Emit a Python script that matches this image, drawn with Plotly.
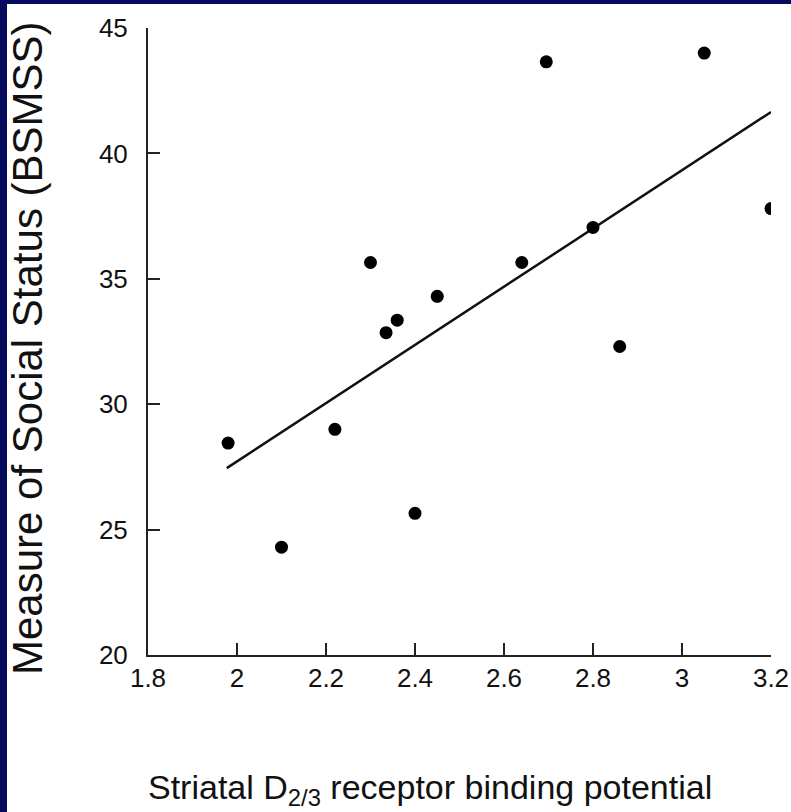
import plotly.graph_objects as go

# Data
binding_potential = [1.98, 2.10, 2.22, 2.30, 2.335, 2.36, 2.40, 2.45, 2.64, 2.695, 2.80, 2.86, 3.05, 3.20]
social_status = [28.45, 24.3, 29.0, 35.65, 32.85, 33.35, 25.65, 34.3, 35.65, 43.65, 37.05, 32.3, 44.0, 37.8]
fit_x = [1.977, 3.20]
fit_y = [27.45, 41.65]

x_ticks = [1.8, 2.0, 2.2, 2.4, 2.6, 2.8, 3.0, 3.2]
x_tick_labels = ["1.8", "2", "2.2", "2.4", "2.6", "2.8", "3", "3.2"]
y_ticks = [20, 25, 30, 35, 40, 45]
y_tick_labels = ["20", "25", "30", "35", "40", "45"]

W, H = 791, 812
L, R, T, B = 148, 20, 28, 157
pw, ph = W - L - R, H - T - B

fig = go.Figure()
fig.add_trace(go.Scatter(x=fit_x, y=fit_y, mode="lines",
                         line=dict(color="#111111", width=2.5), showlegend=False, hoverinfo="skip"))
fig.add_trace(go.Scatter(x=binding_potential, y=social_status, mode="markers",
                         marker=dict(color="#000000", size=13), showlegend=False))

axis_common = dict(showgrid=False, zeroline=False, showline=True, linecolor="#222222", linewidth=2,
                   ticks="inside", ticklen=12, tickwidth=2, tickcolor="#222222", automargin=False,
                   tickfont=dict(family="Liberation Sans, Arial, sans-serif", size=26, color="#111111"))

fig.update_xaxes(range=[1.8, 3.2], tickmode="array", tickvals=x_ticks, ticktext=x_tick_labels,
                 ticklabelstandoff=-1, **axis_common)
fig.update_yaxes(range=[20, 45], tickmode="array", tickvals=y_ticks, ticktext=y_tick_labels,
                 ticklabelstandoff=13, **axis_common)

navy = "#060a5c"
shapes = [
    dict(type="rect", xref="paper", yref="paper", x0=-L / pw, x1=(-L + 7) / pw,
         y0=-B / ph, y1=(ph + T) / ph, fillcolor=navy, line=dict(width=0), layer="above"),
    dict(type="rect", xref="paper", yref="paper", x0=-L / pw, x1=(pw + R) / pw,
         y0=(ph + T - 4) / ph, y1=(ph + T) / ph, fillcolor=navy, line=dict(width=0), layer="above"),
]

annotations = [
    dict(text="Striatal D<sub>2/3</sub> receptor binding potential", xref="paper", yref="paper",
         x=(430 - L) / pw, y=-(789 - (T + ph)) / ph, xanchor="center", yanchor="middle", showarrow=False,
         font=dict(family="Liberation Sans, Arial, sans-serif", size=34, color="#111111")),
    dict(text="Measure of Social Status (BSMSS)", xref="paper", yref="paper",
         x=(27 - L) / pw, y=(T + ph - 348) / ph, xanchor="center", yanchor="middle", textangle=-90,
         showarrow=False,
         font=dict(family="Liberation Sans, Arial, sans-serif", size=42, color="#111111")),
]

fig.update_layout(width=W, height=H, autosize=False, margin=dict(l=L, r=R, t=T, b=B, pad=0),
                  paper_bgcolor="white", plot_bgcolor="white",
                  shapes=shapes, annotations=annotations)

fig.write_html("out.html", config={"responsive": False, "displayModeBar": False})
